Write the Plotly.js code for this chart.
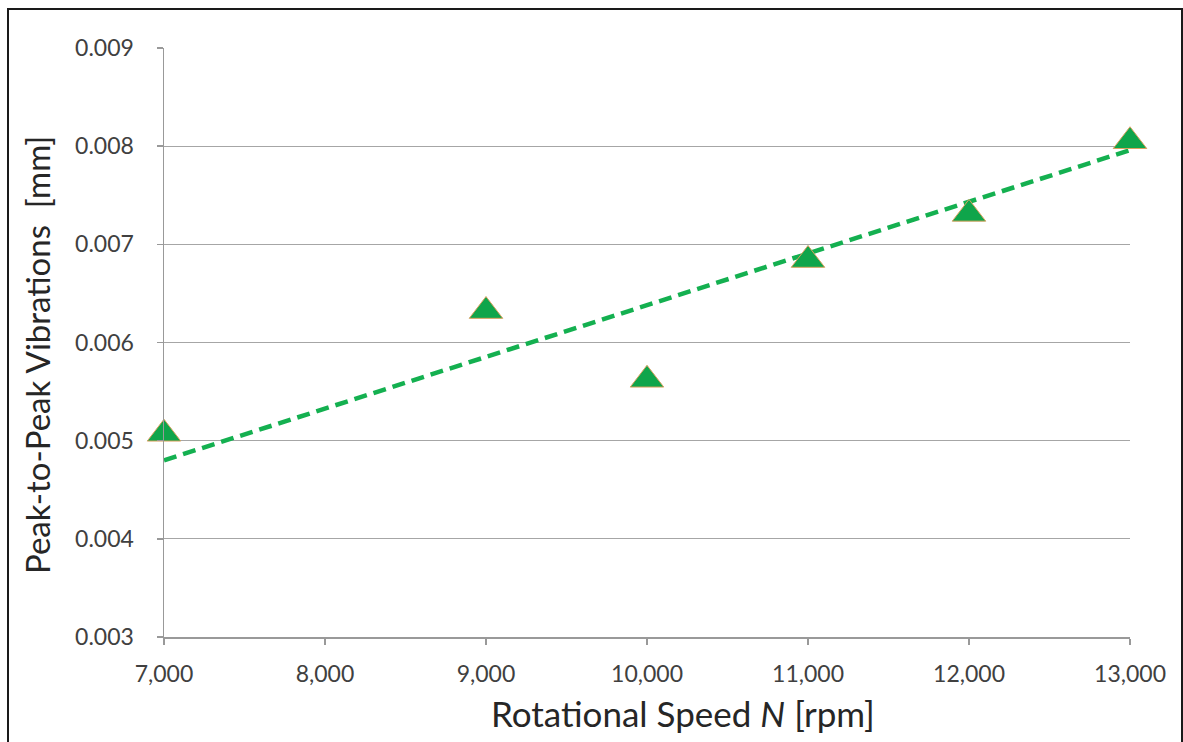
<!DOCTYPE html>
<html>
<head>
<meta charset="utf-8">
<script src="https://cdn.plot.ly/plotly-3.0.1.min.js"></script>
<style>
  html, body { margin: 0; padding: 0; background: #fff; }
  #wrap { position: relative; width: 1183px; height: 742px; overflow: hidden; }
  #chart { position: absolute; left: 0; top: 0; width: 1183px; height: 742px; }
  #frame { position: absolute; left: 7px; top: 8px; width: 1172px; height: 760px; border: 2px solid #1a1a1a; pointer-events: none; }
</style>
</head>
<body>
<div id="wrap">
  <div id="chart"></div>
  <div id="frame"></div>
</div>
<script>
// Data
const speedRpm = [7000, 9000, 10000, 11000, 12000, 13000];
const vibrationMm = [0.00507, 0.00632, 0.00562, 0.00684, 0.00731, 0.00805];
const trendSpeed = [7000, 13000];
const trendVibration = [0.00480, 0.00796];
const xTickVals = [7000, 8000, 9000, 10000, 11000, 12000, 13000];
const xTickText = ['7,000', '8,000', '9,000', '10,000', '11,000', '12,000', '13,000'];
const yTickVals = [0.003, 0.004, 0.005, 0.006, 0.007, 0.008, 0.009];
const yTickText = ['0.003', '0.004', '0.005', '0.006', '0.007', '0.008', '0.009'];

const FONT = 'Lato, "Open Sans", sans-serif';

const traces = [
  {
    x: trendSpeed, y: trendVibration, type: 'scatter', mode: 'lines',
    line: { color: '#14B050', width: 4.5, dash: '13px,7px' },
    hoverinfo: 'skip', showlegend: false, cliponaxis: false
  },
  {
    x: speedRpm, y: vibrationMm, type: 'scatter', mode: 'markers',
    marker: { symbol: 'triangle-up', size: 29, color: '#0FA54B', line: { color: '#D9A15E', width: 1 } },
    showlegend: false, cliponaxis: false
  }
];

const layout = {
  width: 1183, height: 742,
  margin: { l: 164, r: 53, t: 48, b: 105 },
  paper_bgcolor: '#fff', plot_bgcolor: '#fff',
  font: { family: FONT, color: '#404040' },
  xaxis: {
    range: [7000, 13000], tickvals: xTickVals, ticktext: xTickText,
    showgrid: false, zeroline: false, showline: true, linecolor: '#999', linewidth: 1.5,
    ticks: 'outside', ticklen: 6, tickcolor: '#999', tickwidth: 1.5,
    ticklabelstandoff: 10,
    tickfont: { family: FONT, size: 23, color: '#404040' }
  },
  yaxis: {
    range: [0.003, 0.009], tickvals: yTickVals, ticktext: yTickText,
    showgrid: true, gridcolor: '#A6A6A6', gridwidth: 1.2,
    zeroline: false, showline: true, linecolor: '#999', linewidth: 1.5,
    ticks: 'outside', ticklen: 6, tickcolor: '#999', tickwidth: 1.5,
    ticklabelstandoff: 18,
    tickfont: { family: FONT, size: 23, color: '#404040' }
  },
  annotations: [
    {
      text: 'Rotational Speed <i>N</i> [rpm]', xref: 'paper', yref: 'paper',
      x: (683 - 164) / (1130 - 164), y: 0, yshift: -76, xanchor: 'center', yanchor: 'middle',
      showarrow: false, font: { family: FONT, size: 35, color: '#262626' }
    },
    {
      text: 'Peak-to-Peak Vibrations\u00a0 [mm]', xref: 'paper', yref: 'paper',
      x: 0, xshift: -127, y: (637 - 355) / (637 - 48), textangle: -90,
      xanchor: 'center', yanchor: 'middle',
      showarrow: false, font: { family: FONT, size: 33, color: '#262626' }
    }
  ]
};

Plotly.newPlot('chart', traces, layout, { displayModeBar: false, staticPlot: true });
</script>
</body>
</html>
